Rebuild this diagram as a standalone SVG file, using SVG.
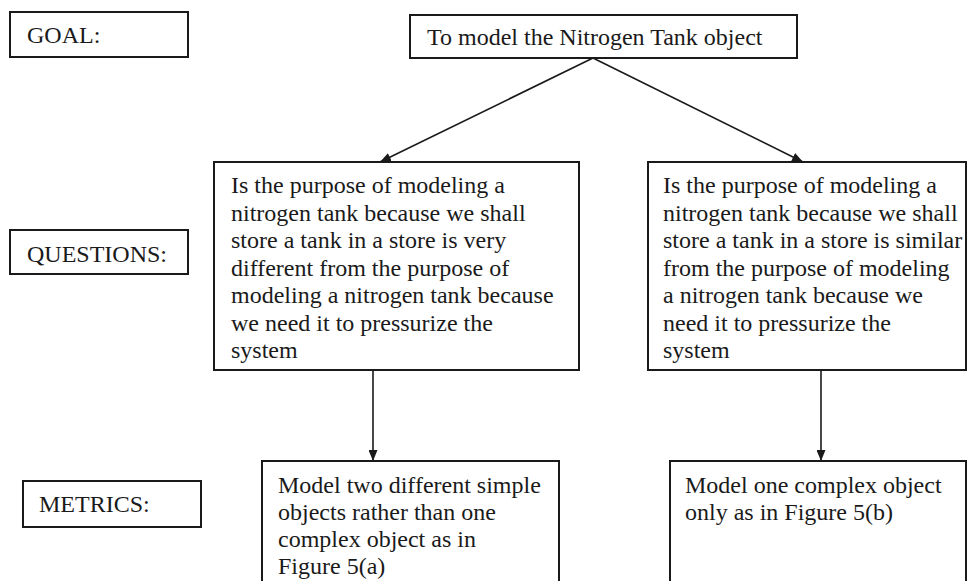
<svg xmlns="http://www.w3.org/2000/svg" width="968" height="581" viewBox="0 0 968 581">
<style>
.box{fill:#fff;stroke:#1a1a1a;stroke-width:2}
.t{font-family:"Liberation Serif","Times New Roman",serif;font-size:24px;fill:#1a1a1a}
.c{stroke:#1a1a1a;stroke-width:1.6;fill:none}
</style>
<defs>
<marker id="ah" viewBox="0 0 10 10" refX="10" refY="5" markerWidth="11" markerHeight="9" markerUnits="userSpaceOnUse" orient="auto" preserveAspectRatio="none"><path d="M0,0L10,5L0,10z" fill="#1a1a1a"/></marker>
</defs>
<rect width="968" height="581" fill="#fff"/>
<g id="goal-label"><rect class="box" x="10" y="12" width="178" height="45"/><text class="t" x="27" y="43">GOAL:</text></g>
<g id="questions-label"><rect class="box" x="10" y="230" width="178" height="44"/><text class="t" x="27" y="262">QUESTIONS:</text></g>
<g id="metrics-label"><rect class="box" x="23" y="481" width="178" height="46"/><text class="t" x="39" y="512">METRICS:</text></g>
<g id="goal"><rect class="box" x="410" y="15" width="387" height="43"/><text class="t" x="427" y="45">To model the Nitrogen Tank object</text></g>
<g id="q1"><rect class="box" x="214" y="162" width="365" height="208"/>
<text class="t" x="231" y="193">Is the purpose of modeling a</text>
<text class="t" x="231" y="221">nitrogen tank because we shall</text>
<text class="t" x="231" y="248">store a tank in a store is very</text>
<text class="t" x="231" y="276">different from the purpose of</text>
<text class="t" x="231" y="303">modeling a nitrogen tank because</text>
<text class="t" x="231" y="331">we need it to pressurize the</text>
<text class="t" x="231" y="358">system</text></g>
<g id="q2"><rect class="box" x="648" y="162" width="318" height="208"/>
<text class="t" x="663" y="193">Is the purpose of modeling a</text>
<text class="t" x="663" y="221">nitrogen tank because we shall</text>
<text class="t" x="663" y="248">store a tank in a store is similar</text>
<text class="t" x="663" y="276">from the purpose of modeling</text>
<text class="t" x="663" y="303">a nitrogen tank because we</text>
<text class="t" x="663" y="331">need it to pressurize the</text>
<text class="t" x="663" y="358">system</text></g>
<g id="m1"><rect class="box" x="262" y="461" width="297" height="130"/>
<text class="t" x="278" y="493">Model two different simple</text>
<text class="t" x="278" y="520">objects rather than one</text>
<text class="t" x="278" y="547">complex object as in</text>
<text class="t" x="278" y="574">Figure 5(a)</text></g>
<g id="m2"><rect class="box" x="670" y="461" width="296" height="130"/>
<text class="t" x="685" y="493">Model one complex object</text>
<text class="t" x="685" y="520">only as in Figure 5(b)</text></g>
<g id="connectors">
<line class="c" x1="593" y1="58" x2="380" y2="162" marker-end="url(#ah)"/>
<line class="c" x1="593" y1="58" x2="803" y2="162" marker-end="url(#ah)"/>
<line class="c" x1="373" y1="370" x2="373" y2="461" marker-end="url(#ah)"/>
<line class="c" x1="821" y1="370" x2="821" y2="461" marker-end="url(#ah)"/>
</g>
</svg>
